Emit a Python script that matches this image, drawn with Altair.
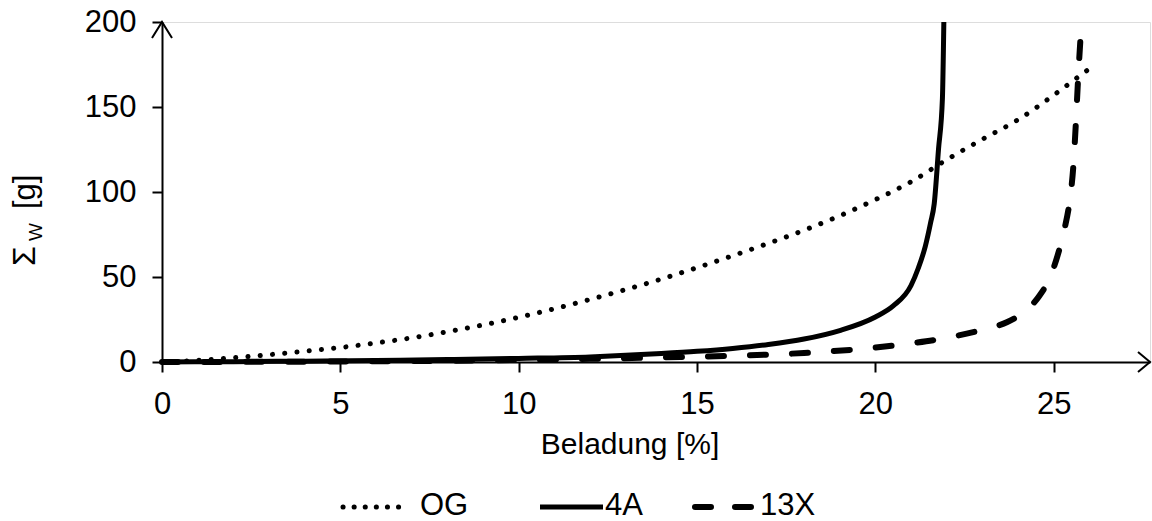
import altair as alt
import pandas as pd

# ---------------- data ----------------
series = ["OG", "4A", "13X"]

og_x = [0, 1, 2, 3, 4, 5, 6, 7, 8, 9, 10, 11, 12, 13, 14, 15, 16, 17, 18, 19,
        20, 21, 22, 23, 24, 25, 26, 26.2]
og_y = [0, 1, 2.5, 4.3, 6.3, 8.5, 11.2, 14.2, 17.8, 21.8, 26.3, 31.3, 36.8,
        42.6, 48.8, 55.5, 62.5, 69.8, 77.5, 86, 95.5, 106, 119, 131, 142.5,
        157, 172.5, 175.5]

a4_x = [0, 2, 4, 6, 8, 10, 12, 13, 14, 15, 16, 17, 18, 19, 20, 20.5, 21,
        21.2, 21.4, 21.55, 21.65, 21.77, 21.88, 21.92]
a4_y = [0, 0.2, 0.5, 0.9, 1.4, 2.1, 3.0, 3.9, 5.0, 6.3, 8.0, 10.3, 13.5,
        18.5, 26.5, 33, 45, 55, 68, 82, 93, 125, 155, 200]

x13_x = [0, 5, 10, 12, 14, 16, 18, 20, 21, 22, 23, 23.7, 24.2, 24.6, 24.9,
         25.1, 25.3, 25.45, 25.55, 25.62, 25.68, 25.75]
x13_y = [0, 0.3, 1.2, 1.9, 2.7, 3.7, 5.3, 8.5, 11, 14.2, 19, 23.5, 30, 39,
         50, 62, 78, 95, 115, 140, 165, 190]

x_ticks = [0, 5, 10, 15, 20, 25]
y_ticks = [0, 50, 100, 150, 200]
x_max = 27.7
y_max = 200

x_title = "Beladung [%]"

FONT = "Liberation Sans"
FS = 31
W, H = 988, 340

xscale = alt.Scale(domain=[0, x_max], nice=False, zero=False)
yscale = alt.Scale(domain=[0, y_max], nice=False)

common_axis = dict(title=None, labelFontSize=FS, labelFont=FONT,
                   labelColor="black", tickColor="black", domainColor="black",
                   domainWidth=2, tickWidth=2, tickSize=10, grid=False,
                   labelFlush=False, labelOverlap=False)
xaxis = alt.Axis(values=x_ticks, labelPadding=17, **common_axis)
yaxis = alt.Axis(values=y_ticks, labelPadding=16, **common_axis)


def enc(ch):
    return ch.encode(
        x=alt.X("x:Q", scale=xscale, axis=xaxis),
        y=alt.Y("y:Q", scale=yscale, axis=yaxis),
    )


def df(xs, ys, name):
    return pd.DataFrame({"x": xs, "y": ys, "s": name})


og = enc(alt.Chart(df(og_x, og_y, series[0])).mark_line(
    color="black", strokeWidth=5, strokeDash=[0.1, 12.2], strokeCap="round",
    interpolate="monotone"))
a4 = enc(alt.Chart(df(a4_x, a4_y, series[1])).mark_line(
    color="black", strokeWidth=5, strokeCap="butt", interpolate="monotone"))
x13 = enc(alt.Chart(df(x13_x, x13_y, series[2])).mark_line(
    color="black", strokeWidth=6, strokeDash=[16, 26], strokeCap="round",
    interpolate="monotone"))

# axis arrowheads at the ends of the axes
arrow_y = enc(alt.Chart(pd.DataFrame({"x": [0], "y": [y_max]})).mark_point(
    shape="M-0.5,0.8L0,0L0.5,0.8", size=1600, filled=False,
    stroke="black", strokeWidth=2, opacity=1))
arrow_x = enc(alt.Chart(pd.DataFrame({"x": [x_max], "y": [0]})).mark_point(
    shape="M-0.6,-0.5L0,0L-0.6,0.5", size=1600, filled=False,
    stroke="black", strokeWidth=2, opacity=1))

one = pd.DataFrame({"a": [0]})

# y-axis title with subscript
yt1 = alt.Chart(one).mark_text(text="Σ", angle=270, align="left",
                                baseline="alphabetic", fontSize=32, font=FONT,
                                color="black").encode(
    x=alt.value(-127), y=alt.value(244))
yt2 = alt.Chart(one).mark_text(text="W", angle=270, align="left",
                                baseline="alphabetic", fontSize=19, font=FONT,
                                color="black").encode(
    x=alt.value(-120), y=alt.value(219))
yt3 = alt.Chart(one).mark_text(text="[g]", angle=270, align="left",
                                baseline="alphabetic", fontSize=FS, font=FONT,
                                color="black").encode(
    x=alt.value(-127), y=alt.value(187))

# x-axis title
xt = alt.Chart(one).mark_text(text=x_title, align="center",
                               baseline="alphabetic", fontSize=30, font=FONT,
                               color="black").encode(
    x=alt.value(630 - 162), y=alt.value(432))

# legend
leg_df = pd.DataFrame({"s": series})
LY = 485
leg_items = [
    (series[0], 181, 246, dict(strokeWidth=5, strokeDash=[0.1, 11], strokeCap="round"), 258),
    (series[1], 378, 441, dict(strokeWidth=5, strokeCap="butt"), 443),
    (series[2], 533, 593, dict(strokeWidth=6, strokeDash=[16, 24], strokeCap="round"), 598),
]
legend_layers = []
for name, x0, x1, style, tx in leg_items:
    base = alt.Chart(leg_df).transform_filter(alt.datum.s == name)
    legend_layers.append(base.mark_rule(color="black", **style).encode(
        x=alt.value(x0), x2=alt.value(x1), y=alt.value(LY)))
    legend_layers.append(base.mark_text(align="left", baseline="alphabetic",
                                        fontSize=31, font=FONT,
                                        color="black").encode(
        x=alt.value(tx), y=alt.value(LY + 8), text="s:N"))

chart = alt.layer(og, x13, a4, arrow_y, arrow_x, yt1, yt2, yt3, xt,
                  *legend_layers).properties(
    width=W, height=H,
    padding={"left": 162, "top": 22, "right": 2, "bottom": 159},
    autosize=alt.AutoSizeParams(type="none"),
).configure_view(stroke=None).configure(background="white")

chart.save("out.html", embed_options={"renderer": "svg", "actions": False})
